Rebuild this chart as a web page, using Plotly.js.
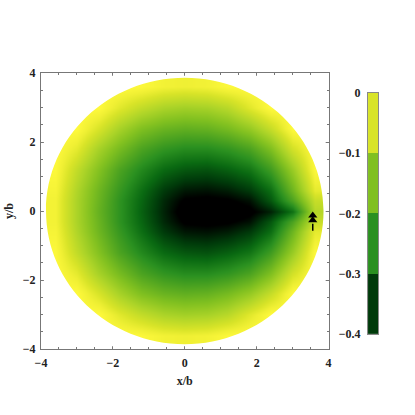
<!DOCTYPE html>
<html>
<head>
<meta charset="utf-8">
<script src="https://cdn.plot.ly/plotly-3.0.1.min.js"></script>
<style>
  html, body { margin: 0; padding: 0; background: #fff; }
  #chart { width: 415px; height: 415px; }
</style>
</head>
<body>
<div id="chart"></div>
<script>
// grid centres, in units of b
const xGrid = [-3.6, -3.0, -2.4, -1.8, -1.2, -0.6, 0, 0.6, 1.2, 1.8, 2.4, 3.0, 3.6];
const yGrid = [-3.6, -3.0, -2.4, -1.8, -1.2, -0.6, -0.3, 0, 0.3, 0.6, 1.2, 1.8, 2.4, 3.0, 3.6];

// values, one row per yGrid entry (0 outside the disc)
const field = [
  [0, 0, 0, 0, -0.005, -0.02, -0.025, -0.02, -0.005, 0, 0, 0, 0],
  [0, 0, 0, -0.04, -0.075, -0.10, -0.11, -0.105, -0.085, -0.04, 0, 0, 0],
  [0, 0, -0.05, -0.105, -0.15, -0.175, -0.185, -0.18, -0.16, -0.125, -0.07, 0, 0],
  [0, -0.035, -0.105, -0.16, -0.21, -0.24, -0.255, -0.255, -0.24, -0.21, -0.15, -0.055, 0],
  [-0.005, -0.075, -0.145, -0.21, -0.26, -0.30, -0.32, -0.325, -0.31, -0.285, -0.225, -0.12, -0.005],
  [-0.015, -0.095, -0.17, -0.235, -0.295, -0.35, -0.38, -0.385, -0.375, -0.35, -0.295, -0.17, -0.035],
  [-0.02, -0.10, -0.175, -0.245, -0.305, -0.365, -0.405, -0.41, -0.405, -0.385, -0.32, -0.21, -0.07],
  [-0.02, -0.10, -0.18, -0.245, -0.31, -0.37, -0.42, -0.43, -0.43, -0.41, -0.37, -0.29, -0.09],
  [-0.02, -0.10, -0.175, -0.245, -0.305, -0.365, -0.405, -0.41, -0.405, -0.385, -0.32, -0.21, -0.07],
  [-0.015, -0.095, -0.17, -0.235, -0.295, -0.35, -0.38, -0.385, -0.375, -0.35, -0.295, -0.17, -0.035],
  [-0.005, -0.075, -0.145, -0.21, -0.26, -0.30, -0.32, -0.325, -0.31, -0.285, -0.225, -0.12, -0.005],
  [0, -0.035, -0.105, -0.16, -0.21, -0.24, -0.255, -0.255, -0.24, -0.21, -0.15, -0.055, 0],
  [0, 0, -0.05, -0.105, -0.15, -0.175, -0.185, -0.18, -0.16, -0.125, -0.07, 0, 0],
  [0, 0, 0, -0.04, -0.075, -0.10, -0.11, -0.105, -0.085, -0.04, 0, 0, 0],
  [0, 0, 0, 0, -0.005, -0.02, -0.025, -0.02, -0.005, 0, 0, 0, 0]
];

// tree marker: two overlapping tiers and a trunk
const treeX = [3.56, 3.56];
const treeTierY = [-0.13, -0.27];
const trunkX = [3.56];
const trunkY = [-0.47];

// legend bar: level edges and block values
const barEdges = [-0.4, -0.3, -0.2, -0.1, 0];
const barLevels = [-0.35, -0.25, -0.15, -0.05];

const discRadius = 3.86;

const avocado = [
    [0, "#000000"],
    [0.125, "#003a0a"],
    [0.25, "#0a6a12"],
    [0.375, "#2a9020"],
    [0.5, "#55a820"],
    [0.625, "#80c020"],
    [0.75, "#acd428"],
    [0.875, "#d8e428"],
    [0.94, "#f0f034"],
    [1, "#fffa3c"]
];

const density = {
    type: "heatmap",
    x: xGrid,
    y: yGrid,
    z: field,
    zmin: -0.4,
    zmax: 0,
    zsmooth: "best",
    colorscale: avocado,
    showscale: false,
    hoverinfo: "skip"
};

const tree = {
    type: "scatter",
    mode: "markers",
    x: treeX,
    y: treeTierY,
    marker: { symbol: "triangle-up", size: 8, color: "#000", line: { width: 0 } },
    hoverinfo: "skip"
};

const trunk = {
    type: "scatter",
    mode: "markers",
    x: trunkX,
    y: trunkY,
    marker: { symbol: "line-ns", size: 5, line: { width: 1.5, color: "#000" } },
    hoverinfo: "skip"
};

const bar = {
    type: "heatmap",
    xaxis: "x2",
    yaxis: "y2",
    x: [-0.5, 0.5],
    y: barEdges,
    z: barLevels.map(v => [v]),
    zmin: -0.4,
    zmax: 0,
    colorscale: avocado,
    showscale: false,
    hoverinfo: "skip"
};

// white mask outside the disc
const R = discRadius, k = 0.5523 * discRadius, S = 3.92;
const maskPath =
    `M${-S},${-S} L${S},${-S} L${S},${S} L${-S},${S} Z ` +
    `M${R},0 C${R},${k} ${k},${R} 0,${R} C${-k},${R} ${-R},${k} ${-R},0 ` +
    `C${-R},${-k} ${-k},${-R} 0,${-R} C${k},${-R} ${R},${-k} ${R},0 Z`;

const frame = "#777";
const axisBase = {
    range: [-4, 4],
    tick0: 0,
    dtick: 2,
    ticks: "inside",
    ticklen: 4,
    tickcolor: frame,
    showline: true,
    linecolor: frame,
    linewidth: 1,
    mirror: "allticks",
    showgrid: false,
    zeroline: false,
    minor: { dtick: 0.5, ticks: "inside", ticklen: 2, tickcolor: frame, showgrid: false },
    automargin: false,
    fixedrange: true
};

const layout = {
    width: 415,
    height: 415,
    margin: { l: 41, r: 36.5, t: 73, b: 66 },
    paper_bgcolor: "#fff",
    plot_bgcolor: "#fff",
    showlegend: false,
    font: { family: "Liberation Serif, serif", size: 12, color: "#222", weight: "bold" },
    xaxis: Object.assign({}, axisBase, {
        domain: [0, 0.8533],
        anchor: "y",
        ticklabelstandoff: 3,
        title: { text: "x/b", standoff: 7, font: { size: 12 } }
    }),
    yaxis: Object.assign({}, axisBase, {
        domain: [0, 1],
        anchor: "x",
        ticklabelstandoff: 2,
        title: { text: "y/b", standoff: 6, font: { size: 12 } }
    }),
    xaxis2: {
        domain: [0.9704, 1],
        anchor: "y2",
        range: [-0.5, 0.5],
        showticklabels: false,
        ticks: "",
        showline: true,
        mirror: true,
        linecolor: "#888",
        showgrid: false,
        zeroline: false,
        fixedrange: true
    },
    yaxis2: {
        domain: [0.054, 0.928],
        anchor: "x2",
        side: "left",
        range: [-0.4, 0],
        tick0: 0,
        dtick: 0.1,
        ticks: "",
        ticklabelstandoff: 4,
        showline: true,
        mirror: true,
        linecolor: "#888",
        showgrid: false,
        zeroline: false,
        fixedrange: true
    },
    shapes: [{
        type: "path",
        xref: "x",
        yref: "y",
        path: maskPath,
        fillrule: "evenodd",
        fillcolor: "#fff",
        line: { width: 0 },
        layer: "above"
    }]
};

Plotly.newPlot("chart", [density, bar, tree, trunk], layout, { staticPlot: true, displayModeBar: false });
</script>
</body>
</html>
